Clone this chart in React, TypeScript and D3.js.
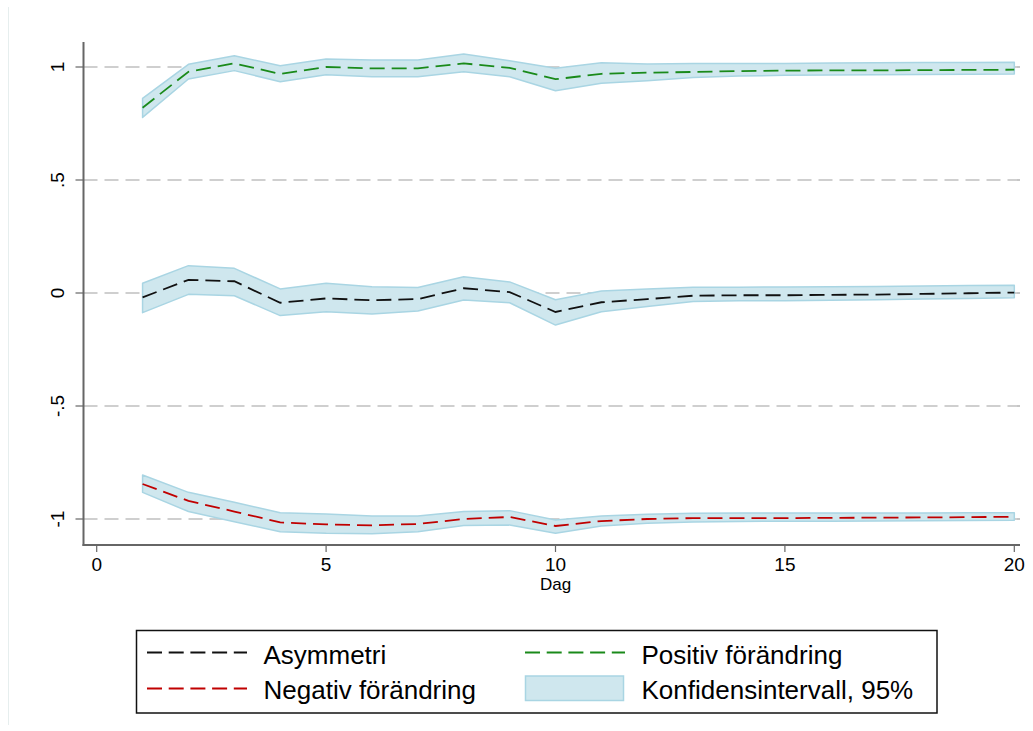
import React from 'react';
import * as d3 from 'd3';

// Days 1..20
const days = [1, 2, 3, 4, 5, 6, 7, 8, 9, 10, 11, 12, 13, 14, 15, 16, 17, 18, 19, 20];

// Asymmetri
const asym = [-0.019, 0.058, 0.052, -0.043, -0.024, -0.032, -0.027, 0.021, 0.004, -0.084, -0.041, -0.027, -0.012, -0.010, -0.010, -0.008, -0.007, -0.004, -0.001, 0.002];
const asymLo = [-0.087, -0.006, -0.012, -0.100, -0.083, -0.093, -0.080, -0.031, -0.043, -0.142, -0.083, -0.060, -0.038, -0.034, -0.034, -0.032, -0.030, -0.027, -0.024, -0.021];
const asymHi = [0.043, 0.121, 0.109, 0.018, 0.043, 0.028, 0.024, 0.072, 0.049, -0.030, 0.009, 0.018, 0.025, 0.025, 0.027, 0.028, 0.029, 0.031, 0.033, 0.034];

// Positiv förändring
const pos = [0.820, 0.979, 1.016, 0.969, 1.000, 0.994, 0.994, 1.016, 0.996, 0.946, 0.970, 0.975, 0.978, 0.982, 0.984, 0.985, 0.985, 0.986, 0.987, 0.988];
const posLo = [0.777, 0.947, 0.984, 0.935, 0.966, 0.957, 0.957, 0.979, 0.957, 0.895, 0.928, 0.939, 0.953, 0.960, 0.963, 0.965, 0.966, 0.967, 0.968, 0.969];
const posHi = [0.861, 1.012, 1.050, 1.006, 1.035, 1.031, 1.031, 1.058, 1.028, 0.994, 1.019, 1.013, 1.015, 1.016, 1.016, 1.018, 1.019, 1.020, 1.020, 1.021];

// Negativ förändring
const neg = [-0.845, -0.920, -0.967, -1.015, -1.024, -1.028, -1.022, -1.000, -0.991, -1.031, -1.009, -1.000, -0.996, -0.996, -0.996, -0.995, -0.994, -0.993, -0.992, -0.990];
const negLo = [-0.882, -0.967, -1.012, -1.056, -1.063, -1.065, -1.056, -1.029, -1.027, -1.063, -1.031, -1.019, -1.013, -1.011, -1.010, -1.010, -1.009, -1.008, -1.007, -1.006];
const negHi = [-0.805, -0.882, -0.926, -0.972, -0.978, -0.987, -0.987, -0.967, -0.963, -1.004, -0.987, -0.979, -0.975, -0.974, -0.974, -0.974, -0.973, -0.973, -0.972, -0.972];

const xTicks = [0, 5, 10, 15, 20];
const yTicks = [-1, -0.5, 0, 0.5, 1];
const yTickLabels = ['-1', '-.5', '0', '.5', '1'];

const FONT = '"Liberation Sans", Arial, sans-serif';
const BAND_FILL = '#cfe7ee';
const BAND_STROKE = '#a9d5e3';

const App = () => {
  const width = 1033;
  const height = 731;

  const x = d3.scaleLinear().domain([0, 20]).range([96.7, 1014.3]);
  const y = d3.scaleLinear().domain([-1, 1]).range([519, 67]);

  const axisLeft = 83.5;
  const axisRight = 1020;
  const axisBottom = 545;
  const axisTop = 42;

  const line = (vals: number[]) =>
    d3.line<number>()
      .x((_, i) => x(days[i]))
      .y(d => y(d))(vals) || '';

  const area = (lo: number[], hi: number[]) =>
    d3.area<number>()
      .x((_, i) => x(days[i]))
      .y0((_, i) => y(lo[i]))
      .y1((_, i) => y(hi[i]))(days) || '';

  const bands = [
    { lo: posLo, hi: posHi },
    { lo: asymLo, hi: asymHi },
    { lo: negLo, hi: negHi },
  ];

  const series = [
    { vals: pos, color: '#1a8a1a' },
    { vals: asym, color: '#111111' },
    { vals: neg, color: '#c00000' },
  ];

  const lgLeft = 136.5;
  const lgTop = 630.5;
  const lgRight = 937;
  const lgBottom = 713;
  const row1 = 654;
  const row2 = 689;

  return (
    <svg width={width} height={height} style={{ position: 'absolute', left: 0, top: 0, background: '#fff' }}>
      {/* faint graph region edge */}
      <line x1={8.5} x2={8.5} y1={7} y2={725} stroke="#e6eeee" strokeWidth={1} />

      {/* gridlines */}
      {yTicks.map(t => (
        <line key={'g' + t} x1={axisLeft} x2={axisRight} y1={y(t)} y2={y(t)}
          stroke="#a0a0a0" strokeWidth={1.2} strokeDasharray="14,7" />
      ))}

      {/* confidence bands */}
      {bands.map((b, i) => (
        <path key={'b' + i} d={area(b.lo, b.hi)} fill={BAND_FILL} stroke={BAND_STROKE} strokeWidth={1.5} strokeLinejoin="round" />
      ))}

      {/* series */}
      {series.map((s, i) => (
        <path key={'s' + i} d={line(s.vals)} fill="none" stroke={s.color} strokeWidth={1.8} strokeDasharray="15,7" />
      ))}

      {/* axes */}
      <line x1={axisLeft} x2={axisLeft} y1={axisTop} y2={axisBottom + 1} stroke="#666" strokeWidth={2} />
      <line x1={axisLeft - 1} x2={axisRight} y1={axisBottom} y2={axisBottom} stroke="#666" strokeWidth={2} />

      {yTicks.map((t, i) => (
        <g key={'yt' + t}>
          <line x1={axisLeft - 8} x2={axisLeft} y1={y(t)} y2={y(t)} stroke="#666" strokeWidth={1.2} />
          <text transform={`translate(64,${y(t)}) rotate(-90)`} textAnchor="middle"
            fontFamily={FONT} fontSize={19} fill="#000">{yTickLabels[i]}</text>
        </g>
      ))}

      {xTicks.map(t => (
        <g key={'xt' + t}>
          <line x1={x(t)} x2={x(t)} y1={axisBottom} y2={axisBottom + 7} stroke="#666" strokeWidth={1.2} />
          <text x={x(t)} y={570.5} textAnchor="middle" fontFamily={FONT} fontSize={19} fill="#000">{t}</text>
        </g>
      ))}
      <text x={x(10)} y={590} textAnchor="middle" fontFamily={FONT} fontSize={17} fill="#000">Dag</text>

      {/* legend */}
      <rect x={lgLeft} y={lgTop} width={lgRight - lgLeft} height={lgBottom - lgTop} fill="#fff" stroke="#111" strokeWidth={1.5} />
      <line x1={147} x2={247} y1={row1 - 1.5} y2={row1 - 1.5} stroke="#111111" strokeWidth={1.8} strokeDasharray="15,6.7" />
      <text x={263.5} y={663.5} fontFamily={FONT} fontSize={26} fill="#000">Asymmetri</text>
      <line x1={147} x2={247} y1={row2 - 0.5} y2={row2 - 0.5} stroke="#c00000" strokeWidth={1.8} strokeDasharray="15,6.7" />
      <text x={263.5} y={698.5} fontFamily={FONT} fontSize={26} fill="#000">Negativ förändring</text>
      <line x1={525} x2={625} y1={row1 - 1.5} y2={row1 - 1.5} stroke="#1a8a1a" strokeWidth={1.8} strokeDasharray="15,6.7" />
      <text x={641.5} y={663.5} fontFamily={FONT} fontSize={26} fill="#000">Positiv förändring</text>
      <rect x={525.5} y={676} width={98} height={24.5} fill={BAND_FILL} stroke={BAND_STROKE} strokeWidth={1.5} />
      <text x={641.5} y={698.5} fontFamily={FONT} fontSize={26} fill="#000">Konfidensintervall, 95%</text>
    </svg>
  );
};

export default App;
